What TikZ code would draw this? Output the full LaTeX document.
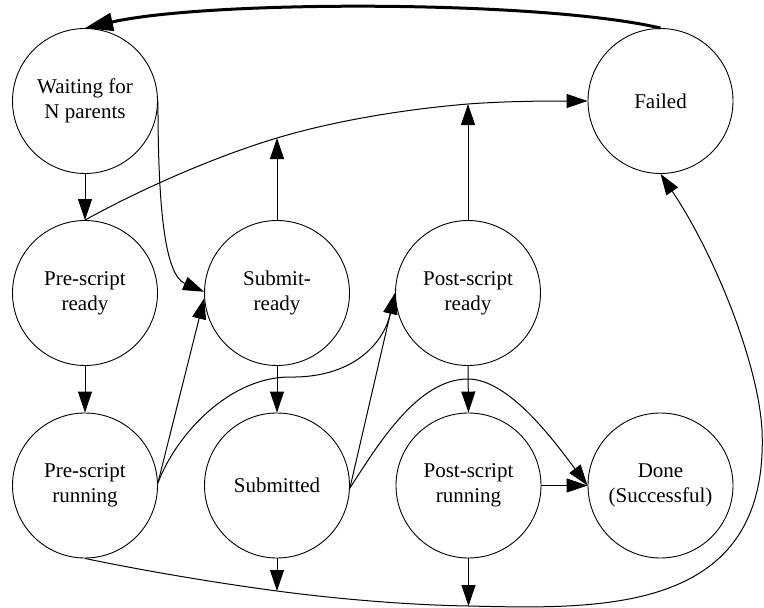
\documentclass[tikz,border=0pt]{standalone}
\usepackage{fontspec}
\setmainfont{Liberation Serif}
\usetikzlibrary{arrows.meta}
\begin{document}
\begin{tikzpicture}[x=1pt,y=-1pt,
  state/.style={circle,draw,line width=0.9pt,minimum size=145pt,inner sep=0pt,
    align=center,font=\fontsize{21}{25}\selectfont},
  edge/.style={line width=1pt,-{Triangle[length=21pt,width=14pt]}},
  plain/.style={line width=1pt},
  thickedge/.style={line width=3pt,-{Triangle[length=28pt,width=18pt]}}]
\useasboundingbox (0,0) rectangle (764,608);
\node[state] (w) at (85,101) {Waiting for\\N parents};
\node[state] (f) at (660.5,101) {Failed};
\node[state] (pr) at (85,293) {Pre-script\\ready};
\node[state] (sr) at (277,293) {Submit-\\ready};
\node[state] (por) at (468,293) {Post-script\\ready};
\node[state] (prun) at (85,485.5) {Pre-script\\running};
\node[state] (sub) at (277,485.5) {Submitted};
\node[state] (porun) at (468.5,485.5) {Post-script\\running};
\node[state] (done) at (660.5,485.5) {Done\\(Successful)};
\coordinate (j1) at (277,138);
\coordinate (j2) at (468,104);
\coordinate (j3) at (277,591);
\coordinate (j4) at (468.5,606);
\coordinate (r) at (762,430);
% Failed -> Waiting
\draw[thickedge] (f.north) .. controls (540,0) and (210,0) .. (w.north);
% straight vertical edges
\draw[edge] (w.south) -- (pr.north);
\draw[edge] (pr.south) -- (prun.north);
\draw[edge] (sr.south) -- (sub.north);
\draw[edge] (por.south) -- (porun.north);
\draw[edge] (porun.east) -- (done.west);
% joins
\draw[edge] (sr.north) -- (j1);
\draw[edge] (por.north) -- (j2);
\draw[edge] (sub.south) -- (j3);
\draw[edge] (porun.south) -- (j4);
% Pre-script ready -> Failed
\draw[edge] (pr.north) .. controls (145,187) and (217,156) .. (j1)
  .. controls (337,120) and (408,109) .. (j2)
  .. controls (508,101) and (550,101) .. (f.west);
% Waiting -> Submit-ready
\draw[edge] (w.east) .. controls (158,210) and (165,275) .. (sr.179);
% Pre-script running -> Submit-ready
\draw[edge] (prun.2) -- (sr.184);
% Pre-script running -> Post-script ready
\draw[edge] (prun.2) .. controls (177,433) and (230,377) .. (290,377)
  .. controls (350,378) and (383,346) .. (por.west);
% Submitted -> Post-script ready
\draw[edge] (sub.358) -- (por.west);
% Submitted -> Done
\draw[edge] (sub.358) .. controls (379,443) and (418,379) .. (468,379)
  .. controls (510,379) and (557,445) .. (done.west);
% Pre-script running -> Failed (bottom)
\draw[edge] (prun.south) .. controls (145,571) and (217,583) .. (j3)
  .. controls (337,599) and (408,605) .. (j4)
  .. controls (600,609) and (770,615) .. (r)
  .. controls (758,360) and (712,250) .. (f.south);
\end{tikzpicture}
\end{document}
